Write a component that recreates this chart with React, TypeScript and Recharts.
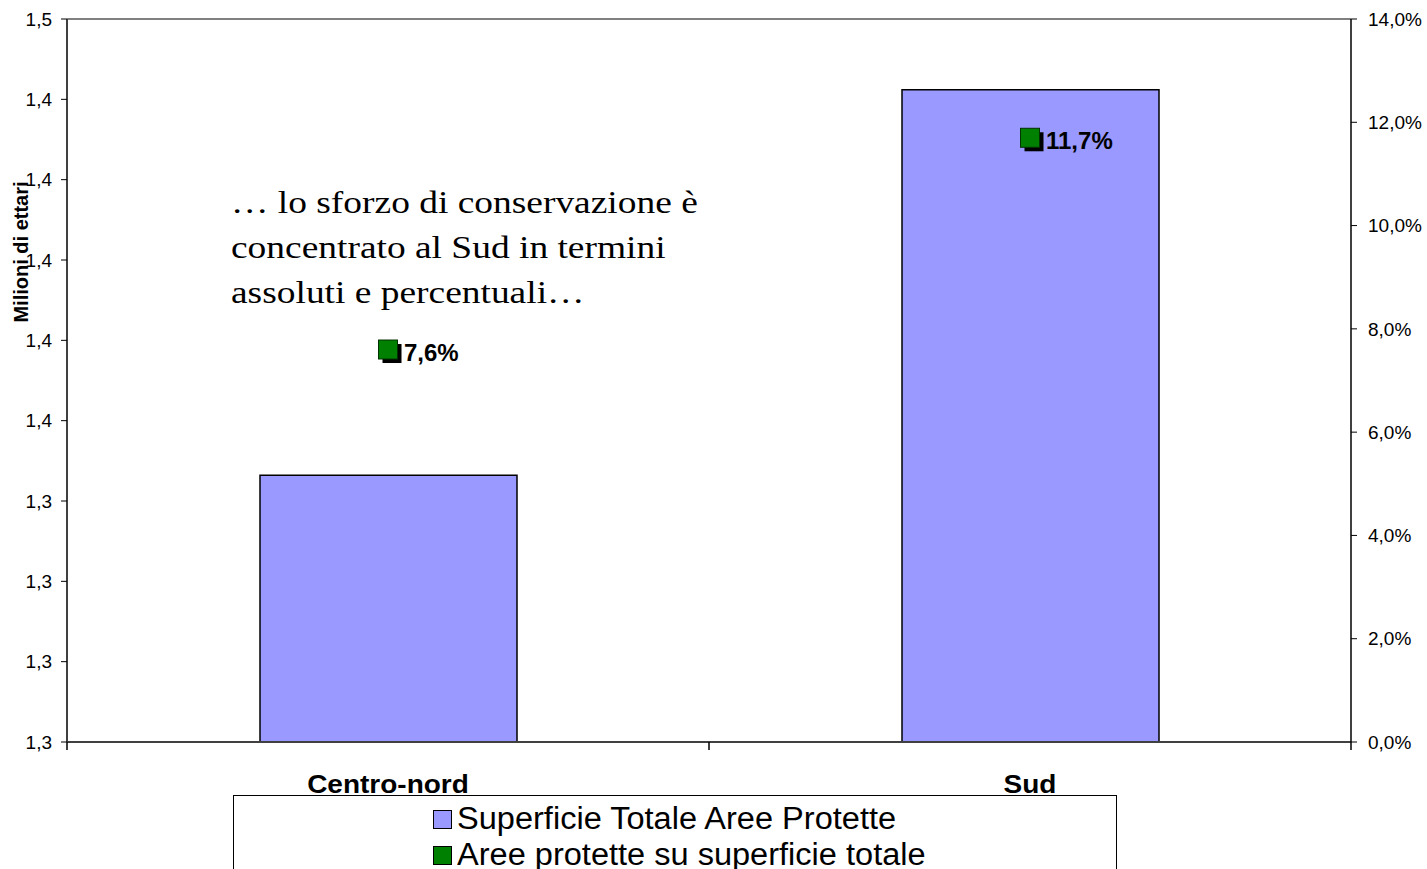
import { ComposedChart, Bar, Line, XAxis, YAxis, ReferenceLine, LabelList } from 'recharts';

const categories = ['Centro-nord', 'Sud'];
const superficie = [1.358, 1.478];
const percentuali = [7.6, 11.7];
const leftTicks = [1.275, 1.3, 1.325, 1.35, 1.375, 1.4, 1.425, 1.45, 1.475, 1.5];
const leftTickLabels = ['1,3', '1,3', '1,3', '1,3', '1,4', '1,4', '1,4', '1,4', '1,4', '1,5'];
const rightTicks = [0, 2, 4, 6, 8, 10, 12, 14];
const legendItems = [
  { label: 'Superficie Totale Aree Protette', color: '#9999FF' },
  { label: 'Aree protette su superficie totale', color: '#008000' },
];
const noteLines = ['… lo sforzo di conservazione è', 'concentrato al Sud in termini', 'assoluti e percentuali…'];

const data = categories.map((name, i) => ({
  x: i + 0.5,
  name,
  superficie: superficie[i],
  pct: percentuali[i],
}));

const FONT = '"Liberation Sans", Arial, sans-serif';
const fmtPct = (v: number) => v.toFixed(1).replace('.', ',') + '%';

function CategoryTick(props: any) {
  const { x, y, payload } = props;
  const v = payload.value as number;
  if (Number.isInteger(v)) {
    return <line x1={x} x2={x} y1={y} y2={y + 8} stroke="#000" strokeWidth={1.5} />;
  }
  // the original labels are a bit stretched horizontally
  return (
    <text
      x={x}
      y={y + 51}
      transform={`translate(${x},0) scale(1.12,1) translate(${-x},0)`}
      textAnchor="middle"
      fontFamily={FONT}
      fontWeight="bold"
      fontSize={25}
      fill="#000"
    >
      {categories[Math.floor(v)]}
    </text>
  );
}

function SquareDot(props: any) {
  const { cx, cy } = props;
  if (cx == null || cy == null) return null;
  const s = 19;
  return (
    <g>
      <rect x={cx - s / 2 + 4} y={cy - s / 2 + 4} width={s} height={s} fill="#000" />
      <rect x={cx - s / 2} y={cy - s / 2} width={s} height={s} fill="#008000" stroke="#003300" strokeWidth={1} />
    </g>
  );
}

function PctLabel(props: any) {
  const { x, y, value } = props;
  return (
    <text x={x + 16} y={y + 3} dominantBaseline="central" fontFamily={FONT} fontWeight="bold" fontSize={24} fill="#000">
      {fmtPct(value)}
    </text>
  );
}

export default function App() {
  return (
    <div style={{ position: 'absolute', left: 0, top: 0, width: 1427, height: 869, background: '#fff', overflow: 'hidden' }}>
      <ComposedChart width={1427} height={869} data={data} margin={{ top: 19, right: 0, left: 0, bottom: 67 }}>
        <XAxis
          dataKey="x"
          type="number"
          domain={[0, 2]}
          ticks={[0, 0.5, 1, 1.5, 2]}
          interval={0}
          height={60}
          tickSize={0}
          tickMargin={0}
          tickLine={false}
          axisLine={{ stroke: '#404040', strokeWidth: 2 }}
          tick={<CategoryTick />}
        />
        <YAxis
          yAxisId="left"
          domain={[1.275, 1.5]}
          ticks={leftTicks}
          interval={0}
          width={67}
          tickSize={6}
          tickMargin={9}
          tick={{ fontFamily: FONT, fontSize: 19, fill: '#000' }}
          tickFormatter={(v: number) => leftTickLabels[leftTicks.indexOf(v)] ?? ''}
          axisLine={{ stroke: '#404040', strokeWidth: 2 }}
          tickLine={{ stroke: '#000' }}
          label={{
            content: () => (
              <text
                transform="translate(28, 252) rotate(-90)"
                textAnchor="middle"
                fontFamily={FONT}
                fontWeight="bold"
                fontSize={20}
                fill="#000"
              >
                Milioni di ettari
              </text>
            ),
          }}
        />
        <YAxis
          yAxisId="right"
          orientation="right"
          domain={[0, 14]}
          ticks={rightTicks}
          interval={0}
          width={76}
          tickSize={6}
          tickMargin={11}
          tick={{ fontFamily: FONT, fontSize: 19, fill: '#000', textAnchor: 'start' }}
          tickFormatter={fmtPct}
          axisLine={{ stroke: '#000', strokeWidth: 1.5 }}
          tickLine={{ stroke: '#000' }}
        />
        <ReferenceLine yAxisId="left" y={1.5} stroke="#808080" strokeWidth={2} />
        <Bar
          yAxisId="left"
          dataKey="superficie"
          fill="#9999FF"
          stroke="#000"
          strokeWidth={1.5}
          barSize={257}
          isAnimationActive={false}
        />
        <Line
          yAxisId="right"
          dataKey="pct"
          stroke="none"
          dot={<SquareDot />}
          activeDot={false}
          isAnimationActive={false}
        >
          <LabelList dataKey="pct" content={<PctLabel />} />
        </Line>
      </ComposedChart>

      <div
        style={{
          position: 'absolute',
          left: 231,
          top: 180,
          fontFamily: '"Liberation Serif", "Times New Roman", serif',
          fontSize: 32,
          lineHeight: '45px',
          color: '#000',
          whiteSpace: 'nowrap',
          transform: 'scaleX(1.17)',
          transformOrigin: 'left top',
        }}
      >
        {noteLines.map((l) => (
          <div key={l}>{l}</div>
        ))}
      </div>

      <div
        style={{
          position: 'absolute',
          left: 233,
          top: 795,
          width: 882,
          height: 100,
          border: '1px solid #000',
          fontFamily: FONT,
          fontSize: 31,
          color: '#000',
        }}
      >
        <div style={{ position: 'absolute', left: 199, top: 5 }}>
          {legendItems.map((it) => (
            <div key={it.label} style={{ display: 'flex', alignItems: 'center', height: 36, whiteSpace: 'nowrap' }}>
              <span
                style={{
                  display: 'inline-block',
                  width: 17,
                  height: 17,
                  background: it.color,
                  border: '1px solid #000',
                  marginRight: 5,
                }}
              />
              <span style={{ display: 'inline-block', transform: 'scaleX(1.05)', transformOrigin: 'left center' }}>
                {it.label}
              </span>
            </div>
          ))}
        </div>
      </div>
    </div>
  );
}
